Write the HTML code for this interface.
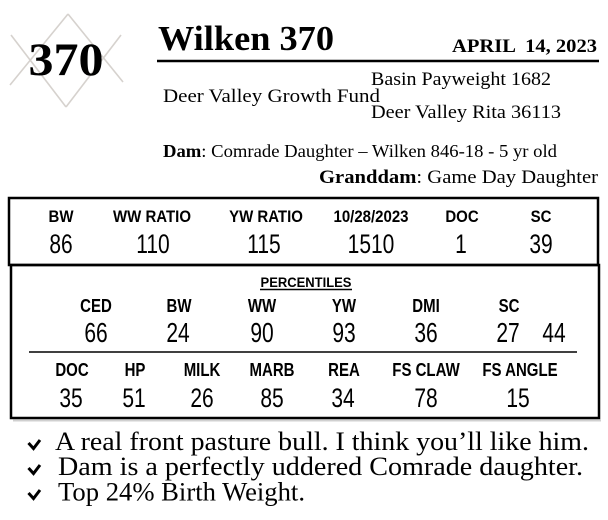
<!DOCTYPE html>
<html><head><meta charset="utf-8"><style>
html,body{margin:0;padding:0;background:#fff;}
svg{display:block;}
.s{font-family:"Liberation Serif",serif;fill:#000;}
.a{font-family:"Liberation Sans",Arial,sans-serif;fill:#000;}
.l{font-weight:bold;font-size:15px;}
.v{font-size:21px;}
</style></head><body>
<svg width="608" height="520" viewBox="0 0 608 520" xmlns="http://www.w3.org/2000/svg">
<rect width="608" height="520" fill="#fff"/>
<!-- logo -->
<g stroke="#d6d2ce" stroke-width="1.6" fill="none">
<line x1="11" y1="35" x2="66" y2="107"/>
<line x1="121" y1="35" x2="66" y2="107"/>
<line x1="68" y1="14" x2="10" y2="85"/>
<line x1="68" y1="14" x2="123" y2="82"/>
</g>
<text class="s" x="66" y="75" text-anchor="middle" font-size="47" font-weight="bold" textLength="75" lengthAdjust="spacingAndGlyphs">370</text>
<!-- header -->
<text class="s" x="158" y="50" font-size="35" font-weight="bold" textLength="176" lengthAdjust="spacingAndGlyphs">Wilken 370</text>
<text class="s" x="452" y="52" font-size="19" font-weight="bold" textLength="145" lengthAdjust="spacingAndGlyphs" xml:space="preserve">APRIL  14, 2023</text>
<line x1="157" y1="61" x2="599" y2="61" stroke="#000" stroke-width="2.5"/>
<text class="s" x="371" y="85" font-size="19" textLength="180" lengthAdjust="spacingAndGlyphs">Basin Payweight 1682</text>
<text class="s" x="163" y="102" font-size="19" textLength="217" lengthAdjust="spacingAndGlyphs">Deer Valley Growth Fund</text>
<text class="s" x="371" y="118" font-size="19" textLength="190" lengthAdjust="spacingAndGlyphs">Deer Valley Rita 36113</text>
<text class="s" x="163" y="157" font-size="18" textLength="394" lengthAdjust="spacingAndGlyphs"><tspan font-weight="bold">Dam</tspan>: Comrade Daughter – Wilken 846-18 - 5 yr old</text>
<text class="s" x="319" y="183" font-size="19" textLength="279" lengthAdjust="spacingAndGlyphs"><tspan font-weight="bold">Granddam</tspan>: Game Day Daughter</text>
<!-- boxes -->
<line x1="13" y1="420.5" x2="601" y2="420.5" stroke="#d0d0d0" stroke-width="2"/>
<rect x="9" y="198" width="589" height="67" fill="none" stroke="#000" stroke-width="2.5"/>
<rect x="11" y="265" width="588" height="153" fill="none" stroke="#000" stroke-width="2.5"/>
<!-- row1 labels -->
<g class="a l" text-anchor="middle">
<text transform="translate(61,222) scale(1,1.1)">BW</text>
<text transform="translate(152,222) scale(1,1.1)">WW RATIO</text>
<text transform="translate(266,222) scale(1,1.1)">YW RATIO</text>
<text transform="translate(371,222) scale(1,1.1)">10/28/2023</text>
<text transform="translate(462,222) scale(1,1.1)">DOC</text>
<text transform="translate(541,222) scale(1,1.1)">SC</text>
</g>
<g class="a v" text-anchor="middle">
<text transform="translate(61,253) scale(1,1.26)">86</text>
<text transform="translate(153,253) scale(1,1.26)">110</text>
<text transform="translate(264,253) scale(1,1.26)">115</text>
<text transform="translate(371,253) scale(1,1.26)">1510</text>
<text transform="translate(461,253) scale(1,1.26)">1</text>
<text transform="translate(541,253) scale(1,1.26)">39</text>
</g>
<!-- percentiles -->
<text class="a" transform="translate(306,287) scale(1,1.08)" text-anchor="middle" font-size="13" font-weight="bold">PERCENTILES</text>
<line x1="260" y1="289.5" x2="352" y2="289.5" stroke="#000" stroke-width="1.5"/>
<g class="a l" text-anchor="middle">
<text transform="translate(96,312) scale(1,1.22)">CED</text>
<text transform="translate(179,312) scale(1,1.22)">BW</text>
<text transform="translate(262,312) scale(1,1.22)">WW</text>
<text transform="translate(344,312) scale(1,1.22)">YW</text>
<text transform="translate(426,312) scale(1,1.22)">DMI</text>
<text transform="translate(509,312) scale(1,1.22)">SC</text>
</g>
<g class="a v" text-anchor="middle">
<text transform="translate(96,342) scale(1,1.33)">66</text>
<text transform="translate(178,342) scale(1,1.33)">24</text>
<text transform="translate(262,342) scale(1,1.33)">90</text>
<text transform="translate(344,342) scale(1,1.33)">93</text>
<text transform="translate(426,342) scale(1,1.33)">36</text>
<text transform="translate(508,342) scale(1,1.33)">27</text>
<text transform="translate(554,342) scale(1,1.33)">44</text>
</g>
<line x1="29" y1="352" x2="577" y2="352" stroke="#000" stroke-width="1.5"/>
<g class="a l" text-anchor="middle">
<text transform="translate(72,376) scale(1,1.22)">DOC</text>
<text transform="translate(135,376) scale(1,1.22)">HP</text>
<text transform="translate(202,376) scale(1,1.22)">MILK</text>
<text transform="translate(272,376) scale(1,1.22)">MARB</text>
<text transform="translate(344,376) scale(1,1.22)">REA</text>
<text transform="translate(426,376) scale(1,1.22)">FS CLAW</text>
<text transform="translate(520,376) scale(1,1.22)">FS ANGLE</text>
</g>
<g class="a v" text-anchor="middle">
<text transform="translate(71,407) scale(1,1.28)">35</text>
<text transform="translate(134,407) scale(1,1.28)">51</text>
<text transform="translate(202,407) scale(1,1.28)">26</text>
<text transform="translate(272,407) scale(1,1.28)">85</text>
<text transform="translate(343,407) scale(1,1.28)">34</text>
<text transform="translate(426,407) scale(1,1.28)">78</text>
<text transform="translate(518,407) scale(1,1.28)">15</text>
</g>
<!-- bullets -->
<g stroke="#000" stroke-width="3" fill="none" stroke-linejoin="miter">
<polyline points="28.5,443 33.5,448.5 40,440"/>
<polyline points="28.5,468 33.5,473.5 40,465"/>
<polyline points="28.5,493 33.5,498.5 40,490"/>
</g>
<text class="s" x="55" y="450" font-size="26" textLength="534" lengthAdjust="spacingAndGlyphs">A real front pasture bull. I think you’ll like him.</text>
<text class="s" x="58" y="475" font-size="26" textLength="525" lengthAdjust="spacingAndGlyphs">Dam is a perfectly uddered Comrade daughter.</text>
<text class="s" x="58" y="500.5" font-size="26" textLength="247" lengthAdjust="spacingAndGlyphs">Top 24% Birth Weight.</text>
</svg>
</body></html>
